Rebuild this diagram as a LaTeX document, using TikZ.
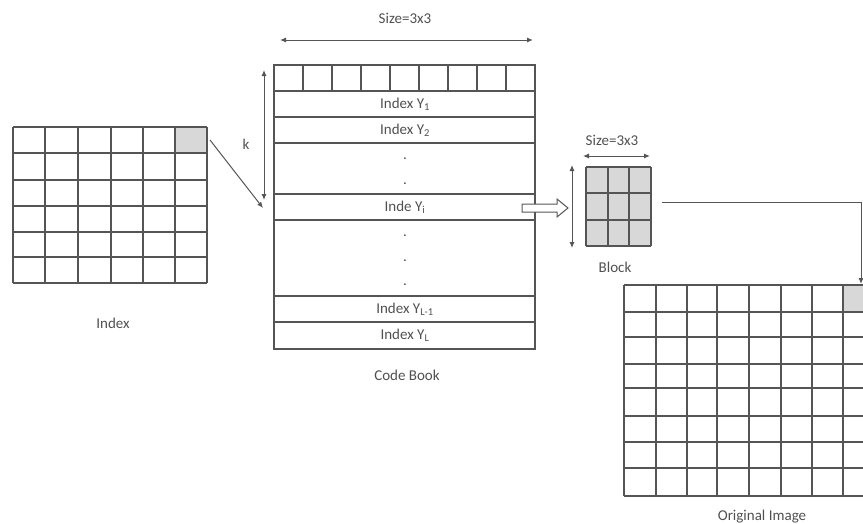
\documentclass[tikz,border=0pt]{standalone}
\usepackage{fontspec}
\setmainfont{Carlito}
\usetikzlibrary{arrows.meta}
\definecolor{ln}{HTML}{555555}
\definecolor{tx}{HTML}{505050}
\definecolor{cellgray}{HTML}{D8D8D8}
\tikzset{
  gridline/.style={draw=ln, line width=1.1pt},
  lbl/.style={text=tx, font=\fontsize{15}{17}\selectfont, inner sep=0pt},
  dimarrow/.style={draw=ln, line width=1pt, {Latex[length=6pt,width=5pt]}-{Latex[length=6pt,width=5pt]}},
  onearrow/.style={draw=ln, line width=1pt, -{Latex[length=6pt,width=5pt]}},
}
\begin{document}
\begin{tikzpicture}[x=1pt,y=-1pt]
\useasboundingbox (0,0) rectangle (863,523);

% ---- Index grid (6 x 6) ----
\fill[cellgray] (175,127) rectangle (207,153);
\foreach \x in {13,45,78,111,143,175,207} \draw[gridline] (\x,127) -- (\x,283);
\foreach \y in {127,153,180,206,232,257,283} \draw[gridline] (13,\y) -- (207,\y);
\coordinate (idxcell) at (210,140);
\node[lbl] (idxlbl) at (113,323) {Index};

% ---- Code book ----
\draw[gridline] (274,65) rectangle (535,349);
\foreach \y in {91,117,143,194,220,296,322} \draw[gridline] (274,\y) -- (535,\y);
\foreach \k in {1,...,8} \draw[gridline] (274+29*\k,65) -- (274+29*\k,91);
\node[lbl] (y1) at (405,104) {Index Y\textsubscript{1}};
\node[lbl] (y2) at (405,130) {Index Y\textsubscript{2}};
\node[lbl] (d1) at (405,159) {.};
\node[lbl] (d2) at (405,184) {.};
\node[lbl] (yi) at (405,207) {Inde Y\textsubscript{i}};
\node[lbl] (d3) at (405,236) {.};
\node[lbl] (d4) at (405,261) {.};
\node[lbl] (d5) at (405,285) {.};
\node[lbl] (yl1) at (405,309) {Index Y\textsubscript{L-1}};
\node[lbl] (yl) at (405,335) {Index Y\textsubscript{L}};
\node[lbl] (cblbl) at (407,375) {Code Book};

% size arrow above the code book
\coordinate (sa) at (280,40);
\coordinate (sb) at (533,40);
\draw[dimarrow] (sa) -- (sb);
\node[lbl] (size1) at (405,18) {Size=3x3};

% k arrow
\coordinate (ka) at (264,70);
\coordinate (kb) at (264,200);
\draw[dimarrow] (ka) -- (kb);
\node[lbl] (k) at (246,144) {k};

% index cell to code book entry
\coordinate (cbentry) at (263,208);
\draw[onearrow] (idxcell) -- (cbentry);

% hollow arrow from selected entry to block
\draw[draw=ln, fill=white, line width=1pt]
  (522,204) -- (557,204) -- (557,199) -- (568,208) -- (557,217) -- (557,212) -- (522,212) -- cycle;

% ---- Block (3 x 3) ----
\fill[cellgray] (586,167) rectangle (651,246);
\foreach \x in {586,608,629,651} \draw[gridline] (\x,167) -- (\x,246);
\foreach \y in {167,193,220,246} \draw[gridline] (586,\y) -- (651,\y);
\coordinate (ba) at (583,156);
\coordinate (bb) at (650,156);
\draw[dimarrow] (ba) -- (bb);
\node[lbl] (size2) at (612,140) {Size=3x3};
\coordinate (bc) at (572,165);
\coordinate (bd) at (572,248);
\draw[dimarrow] (bc) -- (bd);
\node[lbl] (blocklbl) at (615,267) {Block};

% block to original image
\coordinate (bout) at (662,202);
\coordinate (oin) at (861,284);
\draw[onearrow] (bout) -| (oin);

% ---- Original image grid (8 rows, runs past the right edge) ----
\begin{scope}
\clip (0,0) rectangle (863,523);
\fill[cellgray] (843,285) rectangle (874,312);
\foreach \x in {624,656,687,717,749,781,812,843,874} \draw[gridline] (\x,285) -- (\x,496);
\foreach \y in {285,312,337,364,388,416,442,468,496} \draw[gridline] (624,\y) -- (874,\y);
\end{scope}
\node[lbl] (origlbl) at (762,517) {Original Image};
\end{tikzpicture}
\end{document}
